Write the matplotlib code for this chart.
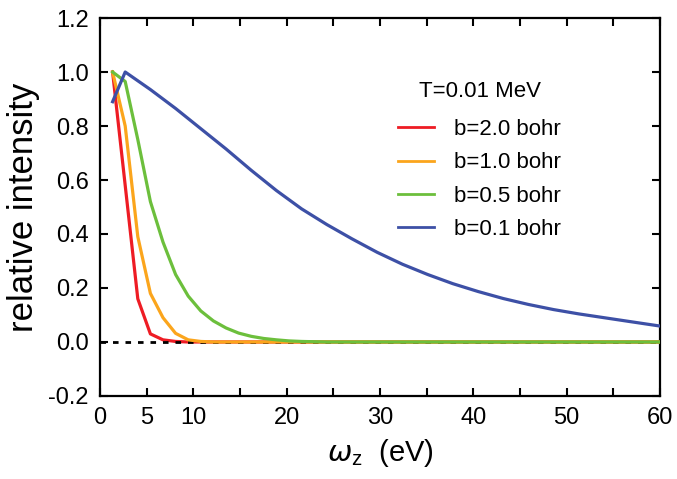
import matplotlib

matplotlib.use("Agg")
import matplotlib.pyplot as plt  # noqa: E402
from matplotlib.ticker import FixedLocator  # noqa: E402

plt.rcParams["font.family"] = ["Liberation Sans", "DejaVu Sans"]

# omega_z grid (eV) and relative intensity per impact parameter b
x_red = [1.35, 2.7, 4.05, 5.4, 6.75, 8.1, 9.45, 10.8, 60.0]
y_red = [1.0, 0.58, 0.16, 0.03, 0.008, 0.002, 0.0, 0.0, 0.0]

x_orange = [1.35, 2.7, 4.05, 5.4, 6.75, 8.1, 9.45, 10.8, 12.15, 60.0]
y_orange = [1.0, 0.80, 0.39, 0.18, 0.09, 0.032, 0.008, 0.002, 0.0, 0.0]

x_green = [1.35, 2.7, 4.05, 5.4, 6.75, 8.1, 9.45, 10.8, 12.15, 13.5, 14.85,
           16.2, 17.55, 18.9, 20.25, 21.6, 24.3, 60.0]
y_green = [1.0, 0.965, 0.75, 0.52, 0.37, 0.25, 0.17, 0.115, 0.078, 0.052,
           0.033, 0.021, 0.013, 0.008, 0.004, 0.002, 0.0, 0.0]

x_blue = [1.35, 2.7, 5.4, 8.1, 10.8, 13.5, 16.2, 18.9, 21.6, 24.3, 27.0, 29.7,
          32.4, 35.1, 37.8, 40.5, 43.2, 45.9, 48.6, 51.3, 54.0, 56.7, 60.0]
y_blue = [0.89, 1.0, 0.935, 0.865, 0.79, 0.715, 0.636, 0.561, 0.493, 0.435,
          0.382, 0.332, 0.288, 0.25, 0.216, 0.187, 0.161, 0.139, 0.12, 0.104,
          0.09, 0.076, 0.059]

labels = ["b=2.0 bohr", "b=1.0 bohr", "b=0.5 bohr", "b=0.1 bohr"]
colors = ["#ee1c24", "#fba51c", "#6cbf3c", "#3d50a6"]

xticks = [0, 5, 10, 15, 20, 25, 30, 35, 40, 45, 50, 55, 60]
xticklabels = ["0", "5", "10", "", "20", "", "30", "", "40", "", "50", "", "60"]
yticks = [-0.2, 0.0, 0.2, 0.4, 0.6, 0.8, 1.0, 1.2]

fig = plt.figure(figsize=(6.77, 4.79), dpi=100)
ax = fig.add_axes([0.1477, 0.1733, 0.975 - 0.1477, 0.9624 - 0.1733])

lw = 2.3
ax.plot(x_red, y_red, color=colors[0], lw=lw, label=labels[0], zorder=2)
ax.plot([0, 60], [0, 0], color="black", lw=2, ls=(0, (2, 2.5)), zorder=2.5)
ax.plot(x_orange, y_orange, color=colors[1], lw=lw, label=labels[1], zorder=3)
ax.plot(x_green, y_green, color=colors[2], lw=lw, label=labels[2], zorder=4)
ax.plot(x_blue, y_blue, color=colors[3], lw=lw, label=labels[3], zorder=5)

ax.set_xlim(0, 60)
ax.set_ylim(-0.2, 1.2)
ax.xaxis.set_major_locator(FixedLocator(xticks))
ax.set_xticklabels(xticklabels)
ax.set_yticks(yticks)
ax.set_yticklabels([f"{v:.1f}" for v in yticks])
ax.tick_params(direction="in", length=6, width=1.5, labelsize=17,
               top=True, right=True, pad=8)
for sp in ax.spines.values():
    sp.set_linewidth(1.6)

ax.set_ylabel("relative intensity", fontsize=25, labelpad=6)
ax.set_xlabel(r"$\omega_\mathregular{z}$  (eV)", fontsize=21, labelpad=6)

leg = ax.legend(title="T=0.01 MeV", frameon=False, fontsize=16,
                title_fontsize=16, handlelength=1.6, handletextpad=0.9,
                labelspacing=0.55, loc="upper left",
                bbox_to_anchor=(0.497, 0.885))
leg._legend_box.sep = 12
for line in leg.get_lines():
    line.set_linewidth(2)

fig.savefig("out.png", dpi=100)
